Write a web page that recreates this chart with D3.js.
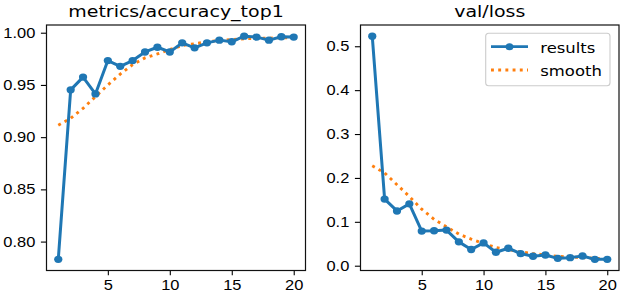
<!DOCTYPE html>
<html>
<head>
<meta charset="utf-8">
<script src="https://cdn.jsdelivr.net/npm/d3@7"></script>
<style>
  body { margin: 0; background: #fff; }
  svg { display: block; font-family: "DejaVu Sans", sans-serif; }
</style>
</head>
<body>
<svg id="chart" width="622" height="296"></svg>
<script>
// epochs on the x axis
const epochs = [1, 2, 3, 4, 5, 6, 7, 8, 9, 10, 11, 12, 13, 14, 15, 16, 17, 18, 19, 20];

// metrics/accuracy_top1
const accResults = [0.783, 0.9453, 0.9575, 0.9414, 0.9733, 0.9678, 0.9733, 0.9816, 0.9861, 0.9816,
    0.9903, 0.9855, 0.9903, 0.9929, 0.9913, 0.9967, 0.9958, 0.9929, 0.9961, 0.9958];
const accSmooth = [0.9114, 0.918, 0.9276, 0.9388, 0.950, 0.9604, 0.9694, 0.9759, 0.9797, 0.9839,
    0.9877, 0.9894, 0.9913, 0.9926, 0.9935, 0.9942, 0.9945, 0.9948, 0.9952, 0.9952];

// val/loss
const lossResults = [0.523, 0.1517, 0.1248, 0.1409, 0.0789, 0.0796, 0.0811, 0.0543, 0.0368, 0.052,
    0.0306, 0.0398, 0.0276, 0.0214, 0.0244, 0.0168, 0.0184, 0.0221, 0.0145, 0.0145];
const lossSmooth = [0.2275, 0.2115, 0.1846, 0.1577, 0.1287, 0.1057, 0.0887, 0.072, 0.0605, 0.0506,
    0.0414, 0.0368, 0.0313, 0.0276, 0.0244, 0.0214, 0.0198, 0.0184, 0.0168, 0.0161];

const xTicks = [5, 10, 15, 20];
const accTicks = [0.80, 0.85, 0.90, 0.95, 1.00];
const lossTicks = [0.0, 0.1, 0.2, 0.3, 0.4, 0.5];
const legendLabels = ["results", "smooth"];

const SX = 1.15;   // picture is a bit wider than tall, text too
const blue = "#1f77b4", orange = "#ff7f0e";

const svg = d3.select("#chart");

function stretch(sel) {
    sel.each(function () {
        let t = d3.select(this);
        let x = +t.attr("x") || 0;
        t.attr("x", x / SX).attr("transform", `scale(${SX},1)`);
    });
}

function panel(opts) {
    let all = opts.results.concat(opts.smooth);
    let lo = d3.min(all), hi = d3.max(all), m = (hi - lo) * 0.05;

    let x = d3.scaleLinear().domain([0.05, 20.95]).range([opts.left, opts.right]);
    let y = d3.scaleLinear().domain([lo - m, hi + m]).range([270.5, 25]);

    let g = svg.append("g");

    // smooth line (dotted)
    g.append("path")
        .datum(epochs.map((e, i) => [e, opts.smooth[i]]))
        .attr("fill", "none")
        .attr("stroke", orange)
        .attr("stroke-width", 2.9)
        .attr("stroke-dasharray", "2.9,4.3")
        .attr("d", d3.line().x(d => x(d[0])).y(d => y(d[1])));

    // results line with markers
    g.append("path")
        .datum(epochs.map((e, i) => [e, opts.results[i]]))
        .attr("fill", "none")
        .attr("stroke", blue)
        .attr("stroke-width", 3)
        .attr("stroke-linejoin", "round")
        .attr("d", d3.line().x(d => x(d[0])).y(d => y(d[1])));

    g.selectAll(".dot")
        .data(opts.results)
        .enter().append("ellipse")
        .attr("cx", (d, i) => x(epochs[i]))
        .attr("cy", d => y(d))
        .attr("rx", 4.1)
        .attr("ry", 3.7)
        .attr("fill", blue);

    // axes
    let xa = g.append("g")
        .attr("transform", "translate(0,270.5)")
        .call(d3.axisBottom(x).tickValues(xTicks).tickSize(4.8).tickPadding(4.8).tickFormat(d3.format("d")));
    let ya = g.append("g")
        .attr("transform", `translate(${opts.left},0)`)
        .call(d3.axisLeft(y).tickValues(opts.ticks).tickSize(5.6).tickPadding(5.6).tickFormat(d3.format(opts.fmt)));

    [xa, ya].forEach(a => {
        a.select(".domain").remove();
        a.selectAll("line").attr("stroke", "#000").attr("stroke-width", 1.1);
        a.selectAll("text").attr("fill", "#000").style("font-size", "14.3px").call(stretch);
    });

    // frame
    g.append("rect")
        .attr("x", opts.left).attr("y", 25)
        .attr("width", opts.right - opts.left).attr("height", 245.5)
        .attr("fill", "none").attr("stroke", "#111").attr("stroke-width", 1.2);

    // title
    g.append("g")
        .attr("transform", `translate(${(opts.left + opts.right) / 2},16.5)`)
        .append("text")
        .attr("text-anchor", "middle")
        .attr("transform", `scale(${SX},1)`)
        .style("font-size", "16.5px")
        .attr("fill", "#000")
        .text(opts.title);

    return g;
}

panel({ left: 46.5, right: 305.5, results: accResults, smooth: accSmooth,
        ticks: accTicks, fmt: ".2f", title: "metrics/accuracy_top1" });

let right = panel({ left: 360.5, right: 619, results: lossResults, smooth: lossSmooth,
        ticks: lossTicks, fmt: ".1f", title: "val/loss" });

// legend
let lg = right.append("g").attr("transform", "translate(485.7,33.3)");
lg.append("rect")
    .attr("width", 124.3).attr("height", 52.4).attr("rx", 3)
    .attr("fill", "#fff").attr("fill-opacity", 0.8)
    .attr("stroke", "#ccc").attr("stroke-width", 1.1);

lg.append("line").attr("x1", 5.3).attr("x2", 42.3).attr("y1", 13.4).attr("y2", 13.4)
    .attr("stroke", blue).attr("stroke-width", 2.8);
lg.append("ellipse").attr("cx", 23.8).attr("cy", 13.4).attr("rx", 3.9).attr("ry", 3.5).attr("fill", blue);
lg.append("line").attr("x1", 5.3).attr("x2", 42.3).attr("y1", 36.7).attr("y2", 36.7)
    .attr("stroke", orange).attr("stroke-width", 2.8).attr("stroke-dasharray", "2.9,4.3");

lg.selectAll(".lt")
    .data(legendLabels)
    .enter().append("text")
    .attr("x", 54.6)
    .attr("y", (d, i) => 19.6 + i * 23.3)
    .style("font-size", "14.3px")
    .attr("fill", "#000")
    .text(d => d)
    .call(stretch);
</script>
</body>
</html>
